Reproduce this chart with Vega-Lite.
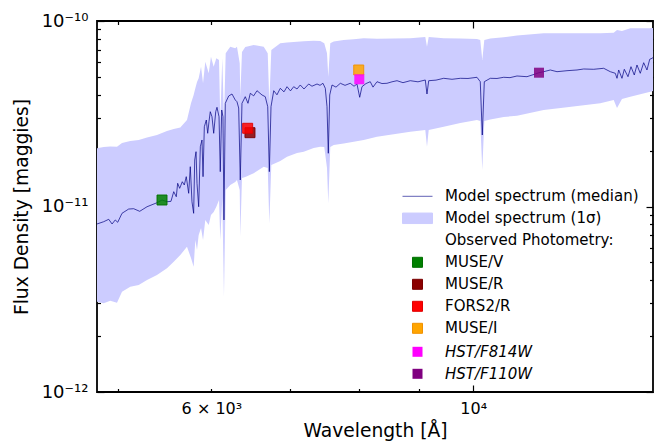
{
  "$schema": "https://vega.github.io/schema/vega-lite/v6.json",
  "width": 556,
  "height": 371,
  "autosize": {"type": "none"},
  "padding": {"left": 97, "top": 21, "right": 6, "bottom": 56},
  "background": "white",
  "config": {
    "font": "DejaVu Sans",
    "view": {"stroke": "black", "strokeWidth": 1.8},
    "axis": {"domain": false, "grid": false, "labelColor": "black", "titleColor": "black", "labelFont": "DejaVu Sans", "titleFont": "DejaVu Sans", "titleFontWeight": "normal", "labelOverlap": false}
  },
  "datasets": {
    "band": [
      {"wavelength": 4800, "lower": 3.067e-12, "upper": 2.060e-11},
      {"wavelength": 4863, "lower": 3.007e-12, "upper": 2.093e-11},
      {"wavelength": 4926, "lower": 3.106e-12, "upper": 2.106e-11},
      {"wavelength": 4991, "lower": 3.029e-12, "upper": 2.101e-11},
      {"wavelength": 5040, "lower": 3.472e-12, "upper": 2.200e-11},
      {"wavelength": 5122, "lower": 3.695e-12, "upper": 2.255e-11},
      {"wavelength": 5207, "lower": 3.774e-12, "upper": 2.283e-11},
      {"wavelength": 5292, "lower": 4.015e-12, "upper": 2.355e-11},
      {"wavelength": 5396, "lower": 4.273e-12, "upper": 2.429e-11},
      {"wavelength": 5502, "lower": 4.644e-12, "upper": 2.553e-11},
      {"wavelength": 5575, "lower": 5.039e-12, "upper": 2.617e-11},
      {"wavelength": 5647, "lower": 5.477e-12, "upper": 2.666e-11},
      {"wavelength": 5721, "lower": 6.072e-12, "upper": 2.926e-11},
      {"wavelength": 5766, "lower": 5.276e-12, "upper": 3.600e-11},
      {"wavelength": 5796, "lower": 4.737e-12, "upper": 3.991e-11},
      {"wavelength": 5815, "lower": 6.599e-12, "upper": 4.337e-11},
      {"wavelength": 5834, "lower": 5.828e-12, "upper": 4.690e-11},
      {"wavelength": 5853, "lower": 7.019e-12, "upper": 4.910e-11},
      {"wavelength": 5880, "lower": 7.658e-12, "upper": 5.671e-11},
      {"wavelength": 5903, "lower": 6.599e-12, "upper": 4.615e-11},
      {"wavelength": 5929, "lower": 8.458e-12, "upper": 6.034e-11},
      {"wavelength": 5969, "lower": 7.949e-12, "upper": 5.225e-11},
      {"wavelength": 5995, "lower": 8.998e-12, "upper": 6.420e-11},
      {"wavelength": 6027, "lower": 9.339e-12, "upper": 5.671e-11},
      {"wavelength": 6058, "lower": 9.974e-12, "upper": 6.294e-11},
      {"wavelength": 6090, "lower": 1.084e-11, "upper": 6.162e-11},
      {"wavelength": 6105, "lower": 6.599e-12, "upper": 2.926e-11},
      {"wavelength": 6129, "lower": 1.111e-11, "upper": 6.294e-11},
      {"wavelength": 6149, "lower": 3.263e-12, "upper": 2.926e-11},
      {"wavelength": 6170, "lower": 1.227e-11, "upper": 6.697e-11},
      {"wavelength": 6225, "lower": 1.306e-11, "upper": 7.269e-11},
      {"wavelength": 6286, "lower": 1.355e-11, "upper": 7.126e-11},
      {"wavelength": 6307, "lower": 1.390e-11, "upper": 7.269e-11},
      {"wavelength": 6341, "lower": 1.227e-11, "upper": 5.915e-11},
      {"wavelength": 6348, "lower": 6.875e-12, "upper": 3.908e-11},
      {"wavelength": 6369, "lower": 1.425e-11, "upper": 6.806e-11},
      {"wavelength": 6410, "lower": 1.442e-11, "upper": 7.242e-11},
      {"wavelength": 6516, "lower": 1.510e-11, "upper": 7.424e-11},
      {"wavelength": 6645, "lower": 1.639e-11, "upper": 7.269e-11},
      {"wavelength": 6697, "lower": 1.613e-11, "upper": 6.697e-11},
      {"wavelength": 6718, "lower": 8.119e-12, "upper": 3.600e-11},
      {"wavelength": 6744, "lower": 1.674e-11, "upper": 6.977e-11},
      {"wavelength": 6863, "lower": 1.759e-11, "upper": 7.582e-11},
      {"wavelength": 6954, "lower": 1.855e-11, "upper": 7.658e-11},
      {"wavelength": 7091, "lower": 1.943e-11, "upper": 7.734e-11},
      {"wavelength": 7184, "lower": 1.975e-11, "upper": 7.783e-11},
      {"wavelength": 7325, "lower": 2.067e-11, "upper": 7.831e-11},
      {"wavelength": 7420, "lower": 2.101e-11, "upper": 7.801e-11},
      {"wavelength": 7478, "lower": 2.093e-11, "upper": 7.582e-11},
      {"wavelength": 7518, "lower": 1.613e-11, "upper": 6.697e-11},
      {"wavelength": 7537, "lower": 1.040e-11, "upper": 5.009e-11},
      {"wavelength": 7566, "lower": 2.093e-11, "upper": 7.582e-11},
      {"wavelength": 7617, "lower": 2.146e-11, "upper": 7.753e-11},
      {"wavelength": 7767, "lower": 2.186e-11, "upper": 7.899e-11},
      {"wavelength": 7920, "lower": 2.235e-11, "upper": 7.978e-11},
      {"wavelength": 8076, "lower": 2.283e-11, "upper": 8.068e-11},
      {"wavelength": 8288, "lower": 2.378e-11, "upper": 8.017e-11},
      {"wavelength": 8844, "lower": 2.531e-11, "upper": 8.068e-11},
      {"wavelength": 9107, "lower": 2.585e-11, "upper": 8.199e-11},
      {"wavelength": 9137, "lower": 2.101e-11, "upper": 7.269e-11},
      {"wavelength": 9168, "lower": 2.585e-11, "upper": 8.199e-11},
      {"wavelength": 9440, "lower": 2.693e-11, "upper": 8.068e-11},
      {"wavelength": 9751, "lower": 2.819e-11, "upper": 8.048e-11},
      {"wavelength": 10073, "lower": 2.926e-11, "upper": 7.998e-11},
      {"wavelength": 10138, "lower": 2.890e-11, "upper": 7.899e-11},
      {"wavelength": 10178, "lower": 1.573e-11, "upper": 6.162e-11},
      {"wavelength": 10218, "lower": 2.890e-11, "upper": 7.899e-11},
      {"wavelength": 10338, "lower": 2.945e-11, "upper": 8.048e-11},
      {"wavelength": 10612, "lower": 3.037e-11, "upper": 8.169e-11},
      {"wavelength": 10891, "lower": 3.083e-11, "upper": 8.353e-11},
      {"wavelength": 11473, "lower": 3.313e-11, "upper": 8.584e-11},
      {"wavelength": 12007, "lower": 3.426e-11, "upper": 8.584e-11},
      {"wavelength": 12812, "lower": 3.600e-11, "upper": 8.584e-11},
      {"wavelength": 13152, "lower": 3.751e-11, "upper": 8.649e-11},
      {"wavelength": 13237, "lower": 3.396e-11, "upper": 8.943e-11},
      {"wavelength": 13366, "lower": 3.798e-11, "upper": 8.833e-11},
      {"wavelength": 13584, "lower": 3.908e-11, "upper": 9.134e-11},
      {"wavelength": 14125, "lower": 4.158e-11, "upper": 9.134e-11},
      {"wavelength": 14200, "lower": 4.194e-11, "upper": 9.168e-11}
    ],
    "median": [
      {"wavelength": 4800, "flux": 8.05e-12},
      {"wavelength": 4863, "flux": 8.28e-12},
      {"wavelength": 4911, "flux": 8.53e-12},
      {"wavelength": 4943, "flux": 8.05e-12},
      {"wavelength": 4974, "flux": 8.46e-12},
      {"wavelength": 4998, "flux": 8.22e-12},
      {"wavelength": 5040, "flux": 9.19e-12},
      {"wavelength": 5106, "flux": 9.69e-12},
      {"wavelength": 5156, "flux": 9.73e-12},
      {"wavelength": 5217, "flux": 9.42e-12},
      {"wavelength": 5292, "flux": 9.97e-12},
      {"wavelength": 5396, "flux": 1.048e-11},
      {"wavelength": 5449, "flux": 1.084e-11},
      {"wavelength": 5502, "flux": 1.061e-11},
      {"wavelength": 5545, "flux": 1.066e-11},
      {"wavelength": 5575, "flux": 1.202e-11},
      {"wavelength": 5603, "flux": 1.129e-11},
      {"wavelength": 5618, "flux": 1.334e-11},
      {"wavelength": 5640, "flux": 1.253e-11},
      {"wavelength": 5669, "flux": 1.360e-11},
      {"wavelength": 5691, "flux": 1.306e-11},
      {"wavelength": 5713, "flux": 1.448e-11},
      {"wavelength": 5740, "flux": 1.178e-11},
      {"wavelength": 5758, "flux": 1.639e-11},
      {"wavelength": 5777, "flux": 1.061e-11},
      {"wavelength": 5796, "flux": 9.19e-12},
      {"wavelength": 5808, "flux": 1.781e-11},
      {"wavelength": 5823, "flux": 1.975e-11},
      {"wavelength": 5834, "flux": 1.334e-11},
      {"wavelength": 5853, "flux": 9.97e-12},
      {"wavelength": 5872, "flux": 2.101e-11},
      {"wavelength": 5891, "flux": 2.283e-11},
      {"wavelength": 5903, "flux": 1.448e-11},
      {"wavelength": 5918, "flux": 2.693e-11},
      {"wavelength": 5941, "flux": 2.926e-11},
      {"wavelength": 5957, "flux": 2.481e-11},
      {"wavelength": 5972, "flux": 2.865e-11},
      {"wavelength": 5987, "flux": 3.244e-11},
      {"wavelength": 6007, "flux": 3.049e-11},
      {"wavelength": 6027, "flux": 2.481e-11},
      {"wavelength": 6051, "flux": 3.244e-11},
      {"wavelength": 6066, "flux": 3.426e-11},
      {"wavelength": 6090, "flux": 3.049e-11},
      {"wavelength": 6105, "flux": 1.541e-11},
      {"wavelength": 6122, "flux": 3.313e-11},
      {"wavelength": 6137, "flux": 3.049e-11},
      {"wavelength": 6149, "flux": 8.46e-12},
      {"wavelength": 6165, "flux": 3.600e-11},
      {"wavelength": 6206, "flux": 3.942e-11},
      {"wavelength": 6246, "flux": 4.041e-11},
      {"wavelength": 6286, "flux": 3.751e-11},
      {"wavelength": 6307, "flux": 3.673e-11},
      {"wavelength": 6328, "flux": 3.396e-11},
      {"wavelength": 6348, "flux": 1.390e-11},
      {"wavelength": 6369, "flux": 3.600e-11},
      {"wavelength": 6410, "flux": 3.908e-11},
      {"wavelength": 6444, "flux": 3.60e-11},
      {"wavelength": 6473, "flux": 4.076e-11},
      {"wavelength": 6516, "flux": 3.95e-11},
      {"wavelength": 6558, "flux": 4.210e-11},
      {"wavelength": 6623, "flux": 3.991e-11},
      {"wavelength": 6665, "flux": 3.908e-11},
      {"wavelength": 6697, "flux": 3.452e-11},
      {"wavelength": 6718, "flux": 1.541e-11},
      {"wavelength": 6740, "flux": 3.452e-11},
      {"wavelength": 6776, "flux": 4.210e-11},
      {"wavelength": 6819, "flux": 4.0e-11},
      {"wavelength": 6863, "flux": 4.337e-11},
      {"wavelength": 6913, "flux": 4.15e-11},
      {"wavelength": 6954, "flux": 4.424e-11},
      {"wavelength": 7001, "flux": 4.2e-11},
      {"wavelength": 7045, "flux": 4.424e-11},
      {"wavelength": 7091, "flux": 4.3e-11},
      {"wavelength": 7136, "flux": 4.519e-11},
      {"wavelength": 7188, "flux": 4.3e-11},
      {"wavelength": 7254, "flux": 4.575e-11},
      {"wavelength": 7301, "flux": 4.45e-11},
      {"wavelength": 7373, "flux": 4.575e-11},
      {"wavelength": 7416, "flux": 4.5e-11},
      {"wavelength": 7459, "flux": 4.615e-11},
      {"wavelength": 7493, "flux": 4.337e-11},
      {"wavelength": 7518, "flux": 3.452e-11},
      {"wavelength": 7537, "flux": 1.936e-11},
      {"wavelength": 7558, "flux": 3.991e-11},
      {"wavelength": 7592, "flux": 4.519e-11},
      {"wavelength": 7651, "flux": 4.4e-11},
      {"wavelength": 7716, "flux": 4.615e-11},
      {"wavelength": 7787, "flux": 4.5e-11},
      {"wavelength": 7867, "flux": 4.615e-11},
      {"wavelength": 7925, "flux": 4.45e-11},
      {"wavelength": 7971, "flux": 4.575e-11},
      {"wavelength": 8013, "flux": 3.879e-11},
      {"wavelength": 8049, "flux": 4.424e-11},
      {"wavelength": 8112, "flux": 4.6e-11},
      {"wavelength": 8180, "flux": 4.707e-11},
      {"wavelength": 8224, "flux": 4.4e-11},
      {"wavelength": 8288, "flux": 4.707e-11},
      {"wavelength": 8369, "flux": 4.6e-11},
      {"wavelength": 8451, "flux": 4.615e-11},
      {"wavelength": 8534, "flux": 4.7e-11},
      {"wavelength": 8618, "flux": 4.766e-11},
      {"wavelength": 8719, "flux": 4.65e-11},
      {"wavelength": 8844, "flux": 4.766e-11},
      {"wavelength": 8978, "flux": 4.7e-11},
      {"wavelength": 9107, "flux": 4.808e-11},
      {"wavelength": 9137, "flux": 4.041e-11},
      {"wavelength": 9168, "flux": 4.766e-11},
      {"wavelength": 9299, "flux": 4.8e-11},
      {"wavelength": 9440, "flux": 4.910e-11},
      {"wavelength": 9594, "flux": 4.85e-11},
      {"wavelength": 9751, "flux": 4.910e-11},
      {"wavelength": 9898, "flux": 4.9e-11},
      {"wavelength": 10073, "flux": 4.972e-11},
      {"wavelength": 10138, "flux": 4.707e-11},
      {"wavelength": 10178, "flux": 2.429e-11},
      {"wavelength": 10218, "flux": 4.707e-11},
      {"wavelength": 10338, "flux": 4.910e-11},
      {"wavelength": 10474, "flux": 4.9e-11},
      {"wavelength": 10612, "flux": 4.972e-11},
      {"wavelength": 10743, "flux": 4.95e-11},
      {"wavelength": 10891, "flux": 5.053e-11},
      {"wavelength": 11105, "flux": 5.009e-11},
      {"wavelength": 11287, "flux": 5.180e-11},
      {"wavelength": 11369, "flux": 5.264e-11},
      {"wavelength": 11473, "flux": 5.330e-11},
      {"wavelength": 11622, "flux": 5.444e-11},
      {"wavelength": 11775, "flux": 5.330e-11},
      {"wavelength": 12007, "flux": 5.396e-11},
      {"wavelength": 12243, "flux": 5.444e-11},
      {"wavelength": 12404, "flux": 5.512e-11},
      {"wavelength": 12649, "flux": 5.491e-11},
      {"wavelength": 12898, "flux": 5.560e-11},
      {"wavelength": 13065, "flux": 5.330e-11},
      {"wavelength": 13193, "flux": 5.225e-11},
      {"wavelength": 13237, "flux": 4.910e-11},
      {"wavelength": 13281, "flux": 5.444e-11},
      {"wavelength": 13366, "flux": 4.910e-11},
      {"wavelength": 13427, "flux": 5.491e-11},
      {"wavelength": 13524, "flux": 5.009e-11},
      {"wavelength": 13603, "flux": 5.671e-11},
      {"wavelength": 13691, "flux": 5.116e-11},
      {"wavelength": 13763, "flux": 5.792e-11},
      {"wavelength": 13852, "flux": 5.225e-11},
      {"wavelength": 13944, "flux": 5.960e-11},
      {"wavelength": 14034, "flux": 5.444e-11},
      {"wavelength": 14109, "flux": 6.217e-11},
      {"wavelength": 14172, "flux": 6.294e-11},
      {"wavelength": 14200, "flux": 6.35e-11}
    ],
    "photA": [
      {"source": "MUSE/V", "wavelength": 5449, "flux": 1.084e-11},
      {"source": "MUSE/R", "wavelength": 6469, "flux": 2.500e-11},
      {"source": "FORS2/R", "wavelength": 6440, "flux": 2.640e-11},
      {"source": "MUSE/I", "wavelength": 7998, "flux": 5.444e-11}
    ],
    "photB": [
      {"source": "HST/F814W", "wavelength": 8007, "flux": 4.850e-11},
      {"source": "HST/F110W", "wavelength": 11369, "flux": 5.264e-11}
    ]
  },
  "layer": [
    {
      "data": {"name": "band"},
      "mark": {"type": "area", "color": "#ccccff", "clip": true},
      "encoding": {
        "x": {
          "field": "wavelength", "type": "quantitative",
          "scale": {"type": "log", "domain": [4800, 14200], "nice": false},
          "axis": {
            "orient": "bottom",
            "values": [6000, 10000],
            "ticks": false,
            "labelExpr": "datum.value === 6000 ? '6 × 10³' : '10⁴'",
            "labelPadding": 8,
            "labelFontSize": 16,
            "title": "Wavelength [Å]",
            "titleFontSize": 18.7,
            "titlePadding": 5
          }
        },
        "y": {
          "field": "lower", "type": "quantitative",
          "scale": {"type": "log", "domain": [1e-12, 1e-10], "nice": false},
          "axis": {
            "orient": "left",
            "values": [1e-12, 1e-11, 1e-10],
            "ticks": false,
            "labelExpr": "datum.value > 5e-11 ? '10⁻¹⁰' : datum.value > 5e-12 ? '10⁻¹¹' : '10⁻¹²'",
            "labelPadding": 9,
            "labelFontSize": 18,
            "title": "Flux Density [maggies]",
            "titleFontSize": 18.7,
            "titlePadding": 10
          }
        },
        "y2": {"field": "upper"}
      }
    },
    {
      "data": {"name": "median"},
      "mark": {"type": "line", "stroke": "#000080", "strokeOpacity": 0.7, "strokeWidth": 1, "clip": true},
      "encoding": {
        "x": {
          "field": "wavelength", "type": "quantitative",
          "scale": {"type": "log", "domain": [4800, 14200], "nice": false},
          "axis": {"orient": "bottom", "labelExpr": "' '", "labelColor": "transparent", "labelFontSize": 1, "title": null, "values": [10000], "tickSize": 7, "offset": -7, "tickColor": "black", "tickWidth": 1.2}
        },
        "y": {
          "field": "flux", "type": "quantitative",
          "scale": {"type": "log", "domain": [1e-12, 1e-10], "nice": false},
          "axis": {"orient": "left", "labelExpr": "' '", "labelColor": "transparent", "labelFontSize": 1, "title": null, "values": [1e-12, 1e-11, 1e-10], "tickSize": 7, "offset": -7, "tickColor": "black", "tickWidth": 1.2}
        }
      }
    },
    {
      "data": {"name": "photA"},
      "mark": {"type": "point", "filled": true, "size": 225, "fillOpacity": 0.85, "strokeWidth": 1, "strokeOpacity": 0.9, "clip": true},
      "encoding": {
        "x": {
          "field": "wavelength", "type": "quantitative",
          "scale": {"type": "log", "domain": [4800, 14200], "nice": false},
          "axis": {"orient": "bottom", "labelExpr": "' '", "labelColor": "transparent", "labelFontSize": 1, "title": null, "values": [5000, 6000, 7000, 8000, 9000], "tickSize": 3.5, "offset": -3.5, "tickColor": "black", "tickWidth": 1.2}
        },
        "y": {
          "field": "flux", "type": "quantitative",
          "scale": {"type": "log", "domain": [1e-12, 1e-10], "nice": false},
          "axis": {"orient": "left", "labelExpr": "' '", "labelColor": "transparent", "labelFontSize": 1, "title": null, "values": [2e-12, 3e-12, 4e-12, 5e-12, 6e-12, 7e-12, 8e-12, 9e-12, 2e-11, 3e-11, 4e-11, 5e-11, 6e-11, 7e-11, 8e-11, 9e-11], "tickSize": 3.5, "offset": -3.5, "tickColor": "black", "tickWidth": 1.2}
        },
        "color": {
          "field": "source", "type": "nominal",
          "scale": {
            "domain": ["Model spectrum (median)", "Model spectrum (1σ)", "Observed Photometry:", "MUSE/V", "MUSE/R", "FORS2/R", "MUSE/I"],
            "range": ["#6262b6", "#ccccff", "transparent", "#008000", "#8b0000", "#ff0000", "#ffa500"]
          },
          "legend": {
            "orient": "none",
            "legendX": 312.5,
            "legendY": 167.3,
            "title": null,
            "padding": 0,
            "symbolSize": 225,
            "symbolStrokeWidth": 1,
            "labelFontSize": 15,
            "labelFont": "DejaVu Sans",
            "labelColor": "black",
            "labelOffset": 19.5,
            "rowPadding": 6,
            "labelLimit": 400
          }
        },
        "shape": {
          "field": "source", "type": "nominal",
          "scale": {
            "domain": ["Model spectrum (median)", "Model spectrum (1σ)", "Observed Photometry:", "MUSE/V", "MUSE/R", "FORS2/R", "MUSE/I"],
            "range": ["M-2,0H2", "M-2,-0.7H2V0.7H-2Z", "M0,0", "M-0.667,-0.667H0.667V0.667H-0.667Z", "M-0.667,-0.667H0.667V0.667H-0.667Z", "M-0.667,-0.667H0.667V0.667H-0.667Z", "M-0.667,-0.667H0.667V0.667H-0.667Z"]
          }
        },
        "stroke": {
          "field": "source", "type": "nominal",
          "scale": {
            "domain": ["Model spectrum (median)", "Model spectrum (1σ)", "Observed Photometry:", "MUSE/V", "MUSE/R", "FORS2/R", "MUSE/I"],
            "range": ["#6262b6", "#ccccff", "transparent", "#007000", "#7a0000", "#e00000", "#f09000"]
          }
        }
      }
    },
    {
      "data": {"name": "photB"},
      "mark": {"type": "point", "filled": true, "size": 225, "shape": "M-0.667,-0.667H0.667V0.667H-0.667Z", "fillOpacity": 0.85, "clip": true},
      "encoding": {
        "x": {
          "field": "wavelength", "type": "quantitative",
          "scale": {"type": "log", "domain": [4800, 14200], "nice": false},
          "axis": {"orient": "top", "labelExpr": "' '", "labelColor": "transparent", "labelFontSize": 1, "title": null, "values": [10000], "tickSize": 7, "offset": -7, "tickColor": "black", "tickWidth": 1.2}
        },
        "y": {
          "field": "flux", "type": "quantitative",
          "scale": {"type": "log", "domain": [1e-12, 1e-10], "nice": false},
          "axis": {"orient": "right", "labelExpr": "' '", "labelColor": "transparent", "labelFontSize": 1, "title": null, "values": [1e-12, 1e-11, 1e-10], "tickSize": 7, "offset": -7, "tickColor": "black", "tickWidth": 1.2}
        },
        "fill": {
          "field": "source", "type": "nominal",
          "scale": {"domain": ["HST/F814W", "HST/F110W"], "range": ["#ff00ff", "#800080"]},
          "legend": {
            "orient": "none",
            "legendX": 312.5,
            "legendY": 322.8,
            "title": null,
            "padding": 0,
            "symbolSize": 225,
            "symbolStrokeWidth": 1,
            "symbolType": "M-0.667,-0.667H0.667V0.667H-0.667Z",
            "labelFontSize": 15,
            "labelFont": "DejaVu Sans",
            "labelFontStyle": "italic",
            "labelColor": "black",
            "labelOffset": 19.5,
            "rowPadding": 6,
            "labelLimit": 400
          }
        }
      }
    },
    {
      "data": {"name": "median"},
      "mark": {"type": "line", "strokeOpacity": 0, "strokeWidth": 0},
      "encoding": {
        "x": {
          "field": "wavelength", "type": "quantitative",
          "scale": {"type": "log", "domain": [4800, 14200], "nice": false},
          "axis": {"orient": "top", "labelExpr": "' '", "labelColor": "transparent", "labelFontSize": 1, "title": null, "values": [5000, 6000, 7000, 8000, 9000], "tickSize": 3.5, "offset": -3.5, "tickColor": "black", "tickWidth": 1.2}
        },
        "y": {
          "field": "flux", "type": "quantitative",
          "scale": {"type": "log", "domain": [1e-12, 1e-10], "nice": false},
          "axis": {"orient": "right", "labelExpr": "' '", "labelColor": "transparent", "labelFontSize": 1, "title": null, "values": [2e-12, 3e-12, 4e-12, 5e-12, 6e-12, 7e-12, 8e-12, 9e-12, 2e-11, 3e-11, 4e-11, 5e-11, 6e-11, 7e-11, 8e-11, 9e-11], "tickSize": 3.5, "offset": -3.5, "tickColor": "black", "tickWidth": 1.2}
        }
      }
    }
  ],
  "resolve": {"scale": {"x": "independent", "y": "independent"}, "axis": {"x": "independent", "y": "independent"}}
}
